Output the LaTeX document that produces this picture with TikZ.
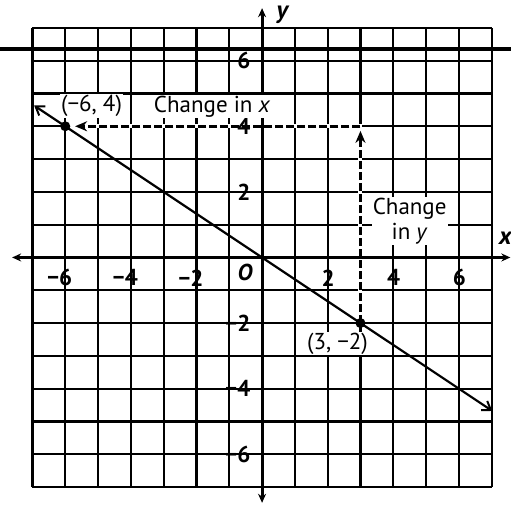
\documentclass[tikz,border=0pt]{standalone}
\usepackage{fontspec}
\setmainfont{PT Sans}
\usetikzlibrary{arrows.meta,calc}
\begin{document}
\begin{tikzpicture}[x=32.8pt,y=32.8pt,
  gridline/.style={line width=2.3pt},
  axisline/.style={line width=3pt,{Stealth[length=9pt,width=8pt]}-{Stealth[length=9pt,width=8pt]}},
  graphline/.style={line width=2.2pt,{Straight Barb[length=8pt,width=11pt,line width=2pt]}-{Straight Barb[length=8pt,width=11pt,line width=2pt]}},
  guide/.style={line width=3pt,dash pattern=on 8pt off 3pt,-{Stealth[length=12pt,width=10pt]}},
  eraser/.style={line width=4pt,white},
  ticklab/.style={font=\fontsize{23}{23}\selectfont\bfseries,inner sep=0pt},
  lab/.style={font=\fontsize{23}{25}\selectfont,fill=white,inner sep=1pt,align=center},
  pt/.style={circle,fill=black,inner sep=0pt,minimum size=10pt}]
\useasboundingbox (-7.99,-7.58) rectangle (7.59,7.85);
% grid
\foreach \i in {-7,...,7} {
  \draw[gridline] (\i,-7) -- (\i,7);
  \draw[gridline] (-7,\i) -- (7,\i);
}
% heavy horizontal rule across page
\draw[line width=4pt] (-7.99,6.36) -- (7.59,6.36);
% points
\coordinate (A) at (-6,4);
\coordinate (B) at (3,-2);
\coordinate (C) at (3,4);
\coordinate (L1) at (-6.95,4.633);
\coordinate (L2) at (7.02,-4.68);
\coordinate (Ctop) at (3,3.86);
\coordinate (Aend) at (-5.7,4);
% clear the grid under the dashed guides
\draw[eraser] (B) -- (C) -- (A);
% axes
\coordinate (xl) at (-7.62,0);
\coordinate (xr) at (7.57,0);
\coordinate (yt) at (0,7.6);
\coordinate (yb) at (0,-7.48);
\draw[axisline] (xl) -- (xr);
\draw[axisline] (yb) -- (yt);
\node[font=\fontsize{25}{25}\selectfont\bfseries\itshape] (xlab) at (7.42,0.6) {x};
\node[font=\fontsize{25}{25}\selectfont\bfseries\itshape] (ylab) at (0.62,7.4) {y};
% tick labels
\foreach \v/\t in {-6/−6,-4/−4,-2/−2,2/2,4/4,6/6} {
  \node[ticklab,anchor=east] at (\v+0.22,-0.62) {\t};
}
\foreach \v/\t in {6/6,4/4,2/2,-2/−2,-4/−4,-6/−6} {
  \node[ticklab,anchor=east] at (-0.35,\v) {\t};
}
\node[font=\fontsize{23}{23}\selectfont\bfseries\itshape,inner sep=0pt] (O) at (-0.52,-0.47) {O};
% labels with white backgrounds
\node[lab] (chx) at (-1.52,4.6) {Change in \textit{x}};
\node[lab] (chy) at (4.5,1.1) {Change\\in \textit{y}};
\node[lab] (la) at (-5.2,4.62) {(−6, 4)};
\node[lab] (lb) at (2.3,-2.62) {(3, −2)};
% graph line
\draw[graphline] (L1) -- (L2);
% dashed guides
\draw[guide] (B) -- (Ctop);
\draw[guide] (C) -- (Aend);
\node[pt] (pA) at (A) {};
\node[pt] (pB) at (B) {};
\end{tikzpicture}
\end{document}
